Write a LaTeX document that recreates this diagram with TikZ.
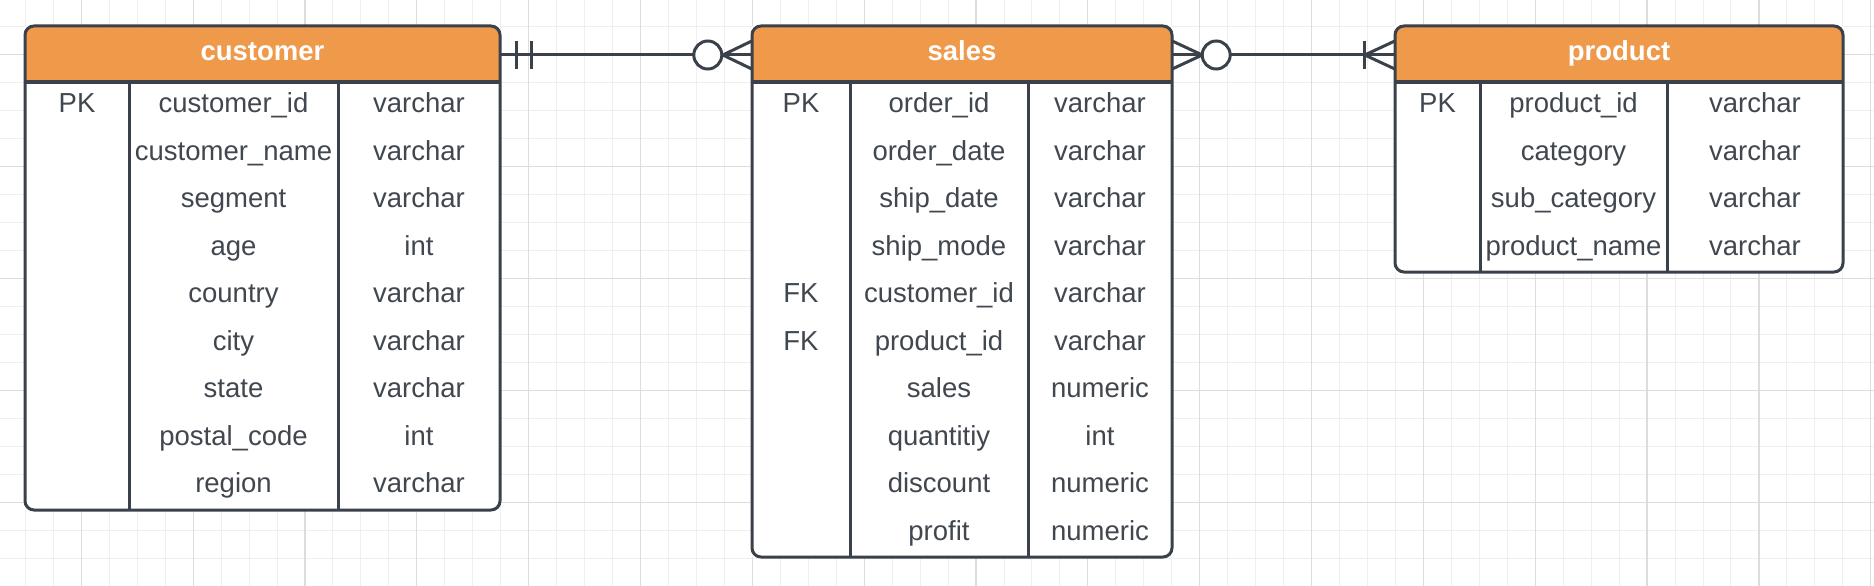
\documentclass[tikz,border=0pt]{standalone}
\usepackage{fontspec}
\setmainfont{Liberation Sans}
\definecolor{erline}{HTML}{3A414A}
\definecolor{erorange}{HTML}{EF9A4A}
\definecolor{ertext}{HTML}{40474F}
\definecolor{gridminor}{HTML}{EFEFEF}
\definecolor{gridmajor}{HTML}{DDDDDD}
\tikzset{erframe/.style={draw=erline,line width=3pt,rounded corners=9pt},
         erwall/.style={draw=erline,line width=3pt},
         erhead/.style={minimum height=56pt,inner sep=0pt,text height=10pt,text depth=0pt,
                        text=white,font=\bfseries\fontsize{27.5}{33}\selectfont},
         ercell/.style={anchor=base,inner sep=0pt,text=ertext,font=\fontsize{27.5}{33}\selectfont},
         errel/.style={draw=erline,line width=3pt}}

\begin{document}
\begin{tikzpicture}[x=1pt,y=-1pt]
\useasboundingbox (0,0) rectangle (1874,586);
\fill[white] (0,0) rectangle (1874,586);
\foreach \k in {0,...,66} \draw[gridminor,line width=1pt] (25.4+27.96*\k,0) -- (25.4+27.96*\k,586);
\foreach \k in {1,...,20} \draw[gridminor,line width=1pt] (0,-1.3+28*\k) -- (1874,-1.3+28*\k);
\foreach \k in {0,...,16} \draw[gridmajor,line width=1.2pt] (81.3+111.84*\k,0) -- (81.3+111.84*\k,586);
\foreach \k in {0,...,4} \draw[gridmajor,line width=1.2pt] (0,54.7+112*\k) -- (1874,54.7+112*\k);

% customer
\fill[white] (25,26) rectangle (500,510);
\fill[erorange] (25,82) [rounded corners=9pt] -- (25,26) -- (500,26) [sharp corners] -- (500,82) -- cycle;
\node[erhead,minimum width=475pt] (customer) at (262.5,55) {customer};
\draw[erwall] (25,82) -- (500,82) (129,82) -- (129,510) (338,82) -- (338,510);
\draw[erframe] (25,26) rectangle (500,510);
\node[ercell] (cust-pk) at (77,112.5) {PK};
\foreach \n/\t [count=\i from 0] in {customer\_id/varchar,customer\_name/varchar,segment/varchar,
    age/int,country/varchar,city/varchar,state/varchar,postal\_code/int,region/varchar}{
  \node[ercell] (cust-n\i) at (233.5,112.5+47.5*\i) {\n};
  \node[ercell] (cust-t\i) at (419,112.5+47.5*\i) {\t};
}

% sales
\fill[white] (752,26) rectangle (1172,557);
\fill[erorange] (752,82) [rounded corners=9pt] -- (752,26) -- (1172,26) [sharp corners] -- (1172,82) -- cycle;
\node[erhead,minimum width=420pt] (sales) at (962,55) {sales};
\draw[erwall] (752,82) -- (1172,82) (850,82) -- (850,557) (1028,82) -- (1028,557);
\draw[erframe] (752,26) rectangle (1172,557);
\node[ercell] (sale-pk) at (801,112.5) {PK};
\node[ercell] (sale-fk1) at (801,302.5) {FK};
\node[ercell] (sale-fk2) at (801,350) {FK};
\foreach \n/\t [count=\i from 0] in {order\_id/varchar,order\_date/varchar,ship\_date/varchar,
    ship\_mode/varchar,customer\_id/varchar,product\_id/varchar,sales/numeric,quantitiy/int,
    discount/numeric,profit/numeric}{
  \node[ercell] (sale-n\i) at (939,112.5+47.5*\i) {\n};
  \node[ercell] (sale-t\i) at (1100,112.5+47.5*\i) {\t};
}

% product
\fill[white] (1395,26) rectangle (1843,272);
\fill[erorange] (1395,82) [rounded corners=9pt] -- (1395,26) -- (1843,26) [sharp corners] -- (1843,82) -- cycle;
\node[erhead,minimum width=448pt] (product) at (1619,55) {product};
\draw[erwall] (1395,82) -- (1843,82) (1480,82) -- (1480,272) (1667,82) -- (1667,272);
\draw[erframe] (1395,26) rectangle (1843,272);
\node[ercell] (prod-pk) at (1437.5,112.5) {PK};
\foreach \n/\t [count=\i from 0] in {product\_id/varchar,category/varchar,sub\_category/varchar,
    product\_name/varchar}{
  \node[ercell] (prod-n\i) at (1573.5,112.5+47.5*\i) {\n};
  \node[ercell] (prod-t\i) at (1755,112.5+47.5*\i) {\t};
}

% customer ||----o< sales
\draw[errel] (customer.east) -- (sales.west);
\draw[errel] ([xshift=16pt,yshift=14pt]customer.east) -- ([xshift=16pt,yshift=-14pt]customer.east)
             ([xshift=31pt,yshift=14pt]customer.east) -- ([xshift=31pt,yshift=-14pt]customer.east);
\draw[errel] ([yshift=14pt]sales.west) -- ([xshift=-29pt]sales.west) -- ([yshift=-14pt]sales.west);
\draw[errel,fill=white] ([xshift=-44pt]sales.west) circle (14pt);

% sales >o----|< product
\draw[errel] (sales.east) -- (product.west);
\draw[errel] ([yshift=14pt]sales.east) -- ([xshift=30pt]sales.east) -- ([yshift=-14pt]sales.east);
\draw[errel,fill=white] ([xshift=44pt]sales.east) circle (14pt);
\draw[errel] ([yshift=14pt]product.west) -- ([xshift=-30pt]product.west) -- ([yshift=-14pt]product.west);
\draw[errel] ([xshift=-30pt,yshift=14pt]product.west) -- ([xshift=-30pt,yshift=-14pt]product.west);
\end{tikzpicture}
\end{document}
